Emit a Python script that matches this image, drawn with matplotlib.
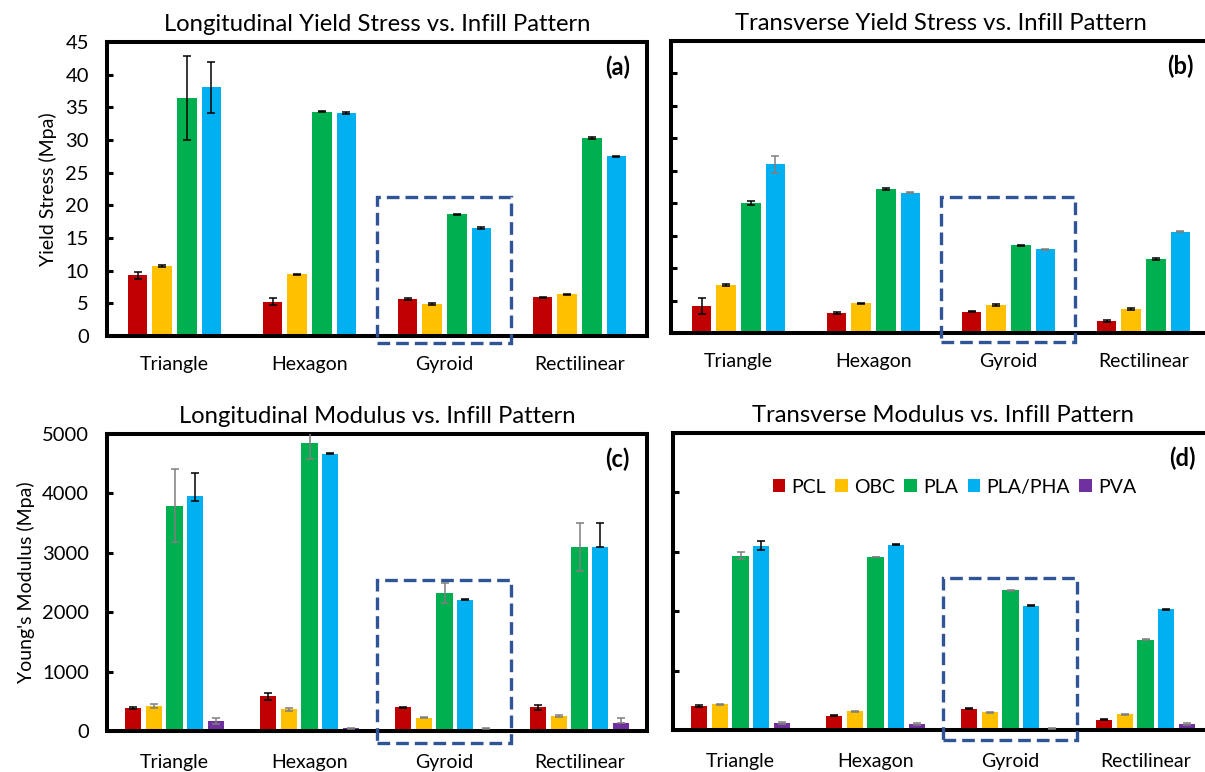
import matplotlib
matplotlib.use("Agg")
import matplotlib.pyplot as plt
import matplotlib.transforms as mtransforms
from matplotlib.patches import Rectangle
import numpy as np

plt.rcParams['font.family'] = ['Lato', 'DejaVu Sans']

categories = ["Triangle", "Hexagon", "Gyroid", "Rectilinear"]
series_names = ["PCL", "OBC", "PLA", "PLA/PHA", "PVA"]
series_colors = ["#C00000", "#FFC000", "#00B050", "#00B0F0", "#7030A0"]
highlight_category = "Gyroid"

# (a) Longitudinal yield stress (MPa): rows = PCL, OBC, PLA, PLA/PHA
long_yield = [
    [9.3, 5.25, 5.65, 5.9],
    [10.75, 9.45, 4.9, 6.4],
    [36.4, 34.35, 18.65, 30.3],
    [38.1, 34.15, 16.55, 27.5],
]
long_yield_err = [
    [0.55, 0.5, 0.1, 0.1],
    [0.12, 0.1, 0.1, 0.1],
    [6.4, 0.1, 0.1, 0.12],
    [3.9, 0.1, 0.1, 0.1],
]

# (b) Transverse yield stress (MPa)
trans_yield = [
    [4.2, 3.1, 3.3, 1.85],
    [7.35, 4.6, 4.3, 3.7],
    [20.1, 22.2, 13.5, 11.4],
    [26.0, 21.6, 12.9, 15.6],
]
trans_yield_err = [
    [1.2, 0.1, 0.1, 0.1],
    [0.15, 0.1, 0.1, 0.1],
    [0.3, 0.1, 0.1, 0.1],
    [1.3, 0.1, 0.1, 0.1],
]

# (c) Longitudinal modulus (MPa): rows = PCL, OBC, PLA, PLA/PHA, PVA
long_mod = [
    [391, 587, 397, 400],
    [425, 370, 225, 250],
    [3790, 4850, 2330, 3100],
    [3950, 4670, 2210, 3100],
    [170, 45, 40, 140],
]
long_mod_err_low = [
    [15, 60, 15, 45],
    [30, 25, 12, 12],
    [615, 270, 170, 410],
    [70, 15, 12, 5],
    [50, 8, 8, 5],
]
long_mod_err_high = [
    [15, 60, 15, 45],
    [30, 25, 12, 12],
    [615, 270, 170, 410],
    [390, 15, 12, 410],
    [50, 8, 8, 85],
]

# (d) Transverse modulus (MPa)
trans_mod = [
    [402, 240, 358, 175],
    [430, 313, 300, 265],
    [2935, 2915, 2352, 1520],
    [3100, 3117, 2095, 2034],
    [120, 100, 30, 100],
]
trans_mod_err = [
    [15, 10, 10, 10],
    [15, 10, 10, 10],
    [60, 5, 5, 5],
    [75, 10, 10, 10],
    [15, 10, 10, 10],
]

W, H = 1205, 772
fig = plt.figure(figsize=(W / 100, H / 100), dpi=100)


def px_axes(left, top, right, bottom):
    return fig.add_axes([left / W, 1 - bottom / H, (right - left) / W, (bottom - top) / H])


def draw_panel(ax, values, err_low, err_high, err_colors, step, width, ylim, yticks,
               show_labels, title, tag, box_top, box_bottom, xpad):
    n = len(values)
    x = np.arange(len(categories))
    for i in range(n):
        off = (i - (n - 1) / 2) * step
        ax.bar(x + off, values[i], width=width, color=series_colors[i],
               label=series_names[i], zorder=2, edgecolor='none')
        ax.errorbar(x + off, values[i], yerr=[err_low[i], err_high[i]], fmt='none',
                    ecolor=err_colors[i], elinewidth=1.1, capsize=2.8,
                    capthick=1.1, zorder=3)
    ax.set_xlim(-0.5, len(categories) - 0.5)
    ax.set_ylim(*ylim)
    ax.set_yticks(yticks)
    ax.set_xticks(x)
    ax.set_xticklabels(categories, fontsize=14)
    ax.tick_params(axis='x', length=0, pad=xpad)
    ax.tick_params(axis='y', direction='in', length=4, width=2.2, labelsize=14.5, pad=13)
    if not show_labels:
        ax.tick_params(axis='y', labelleft=False)
    for sp in ax.spines.values():
        sp.set_linewidth(2.9)
        sp.set_color('black')
    ax.set_title(title, fontsize=17.2, pad=8)
    ax.text(0.968, 0.915, tag, transform=ax.transAxes, ha='right', va='center',
            fontsize=17, fontweight='bold')
    hi = categories.index(highlight_category)
    trans = mtransforms.blended_transform_factory(ax.transData, ax.transAxes)
    rect = Rectangle((hi - 0.5, box_bottom), 0.99, box_top - box_bottom,
                     transform=trans, fill=False, edgecolor='#2F5597',
                     linewidth=2.4, linestyle=(0, (3.8, 1.8)), clip_on=False, zorder=4)
    ax.add_patch(rect)


ax_a = px_axes(107, 42, 647, 336)
ax_b = px_axes(671, 41, 1211, 333)
ax_c = px_axes(107, 434, 647, 731)
ax_d = px_axes(673, 433, 1213, 730)

k, g = 'black', '#7F7F7F'
draw_panel(ax_a, long_yield, long_yield_err, long_yield_err, [k, k, k, k],
           0.182, 0.145, (0, 45), np.arange(0, 46, 5), True,
           "Longitudinal Yield Stress vs. Infill Pattern", "(a)", 0.473, -0.024, 14.5)
draw_panel(ax_b, trans_yield, trans_yield_err, trans_yield_err, [k, k, k, g],
           0.182, 0.145, (0, 45), np.arange(0, 46, 5), False,
           "Transverse Yield Stress vs. Infill Pattern", "(b)", 0.466, -0.03, 14.5)
draw_panel(ax_c, long_mod, long_mod_err_low, long_mod_err_high, [k, g, g, k, g],
           0.153, 0.12, (0, 5000), np.arange(0, 5001, 1000), True,
           "Longitudinal Modulus vs. Infill Pattern", "(c)", 0.508, -0.04, 16.5)
draw_panel(ax_d, trans_mod, trans_mod_err, trans_mod_err, [k, g, g, k, g],
           0.153, 0.12, (0, 5000), np.arange(0, 5001, 1000), False,
           "Transverse Modulus vs. Infill Pattern", "(d)", 0.512, -0.034, 16.5)

ax_a.set_ylabel("Yield Stress (Mpa)", fontsize=14, labelpad=6)
ax_c.set_ylabel("Young's Modulus (Mpa)", fontsize=14, labelpad=5)

ax_d.legend(loc='center', bbox_to_anchor=(0.521, 0.818), ncol=5, frameon=False,
            fontsize=14, handlelength=0.65, handleheight=0.65, handletextpad=0.3,
            columnspacing=0.5, borderpad=0.2)

fig.savefig("out.png", dpi=100)
